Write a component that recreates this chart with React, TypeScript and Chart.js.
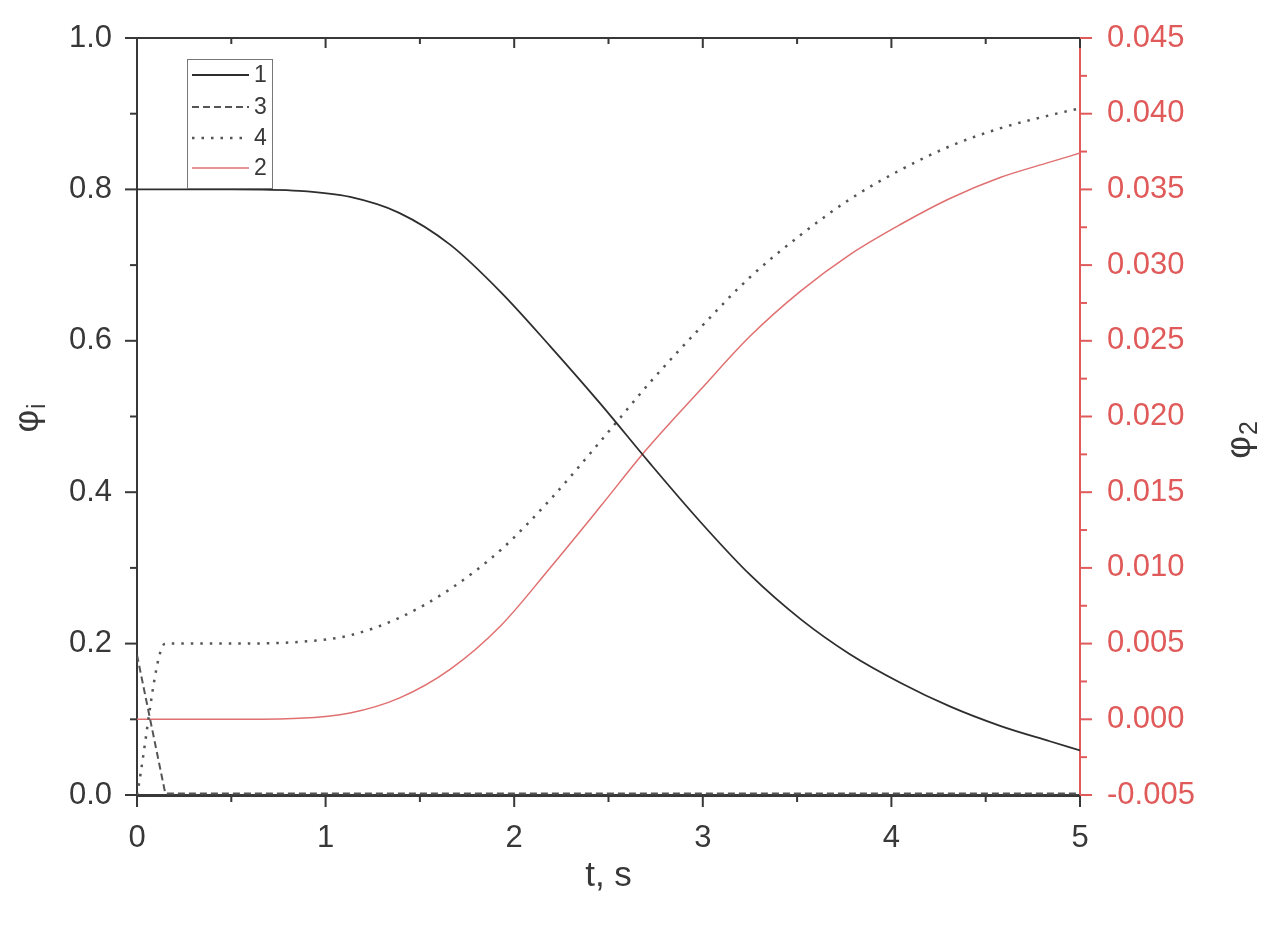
import React, { useEffect, useRef } from "react";
import { Chart, registerables } from "chart.js";
Chart.register(...registerables);

// Curve 1 (black solid, left axis)
const t1 = [0, 0.5, 0.86, 1.13, 1.39, 1.66, 1.93, 2.19, 2.46, 2.72, 2.99, 3.25, 3.52, 3.78, 4.05, 4.31, 4.58, 4.84, 5.0];
const phi1 = [0.8, 0.8, 0.798, 0.79, 0.769, 0.727, 0.664, 0.593, 0.516, 0.438, 0.36, 0.291, 0.232, 0.186, 0.148, 0.117, 0.091, 0.071, 0.059];
// Curve 3 (dashed, left axis)
const t3 = [0, 0.15, 5.0];
const phi3 = [0.185, 0.002, 0.002];
// Curve 4 (dotted, left axis)
const t4 = [0, 0.15, 0.5, 0.9, 1.13, 1.39, 1.66, 1.93, 2.19, 2.46, 2.72, 2.99, 3.25, 3.52, 3.78, 4.05, 4.31, 4.58, 4.84, 5.0];
const phi4 = [0, 0.2, 0.2, 0.203, 0.211, 0.234, 0.272, 0.324, 0.39, 0.468, 0.545, 0.618, 0.684, 0.74, 0.787, 0.826, 0.857, 0.881, 0.898, 0.907];
// Curve 2 (red, right axis)
const t2 = [0, 0.5, 0.86, 1.13, 1.39, 1.66, 1.93, 2.19, 2.46, 2.7, 2.99, 3.25, 3.52, 3.78, 4.05, 4.31, 4.58, 4.84, 5.0];
const phi2 = [0, 0, 0.00007, 0.00042, 0.0014, 0.0033, 0.0062, 0.01, 0.0141, 0.0178, 0.0218, 0.0253, 0.0283, 0.0307, 0.0327, 0.0344, 0.0358, 0.0368, 0.0374];

const legendOrder = ["1", "3", "4", "2"];
const xTitle = "t, s";
const yTitle = ["φ", "i"];
const y2Title = ["φ", "2"];

const FONT = "'Liberation Sans', Arial, sans-serif";
const DARK = "#383838";
const RED = "#e05a5a";

const pts = (t: number[], v: number[]) => t.map((x, i) => ({ x, y: v[i] }));

const decorPlugin = {
  id: "decor",
  afterDraw(chart: any) {
    const ctx = chart.ctx;
    const { left, right, top, bottom } = chart.chartArea;
    const xs = chart.scales.x;
    const ys = chart.scales.y;
    const y2s = chart.scales.y2;
    ctx.save();
    // top border
    ctx.strokeStyle = DARK;
    ctx.lineWidth = 2;
    ctx.beginPath();
    ctx.moveTo(left, top);
    ctx.lineTo(right, top);
    ctx.stroke();
    // x ticks (bottom outward, top inward)
    xs.ticks.forEach((tk: any) => {
      const v = tk.value;
      const major = Math.abs(v - Math.round(v)) < 1e-6;
      const px = xs.getPixelForValue(v);
      ctx.beginPath();
      ctx.moveTo(px, bottom);
      ctx.lineTo(px, bottom + (major ? 12 : 7));
      ctx.moveTo(px, top);
      ctx.lineTo(px, top + (major ? 10 : 6));
      ctx.stroke();
    });
    // left ticks
    ys.ticks.forEach((tk: any) => {
      const k = Math.round(tk.value * 10);
      const major = k % 2 === 0;
      const py = ys.getPixelForValue(tk.value);
      ctx.beginPath();
      ctx.moveTo(left, py);
      ctx.lineTo(left - (major ? 12 : 7), py);
      ctx.stroke();
    });
    // right ticks
    ctx.strokeStyle = RED;
    y2s.ticks.forEach((tk: any) => {
      const k = Math.round(tk.value / 0.0025);
      const major = k % 2 === 0;
      const py = y2s.getPixelForValue(tk.value);
      ctx.beginPath();
      ctx.moveTo(right, py);
      ctx.lineTo(right + (major ? 12 : 7), py);
      ctx.stroke();
    });

    // axis titles
    ctx.fillStyle = DARK;
    ctx.font = `35px ${FONT}`;
    ctx.textAlign = "center";
    ctx.textBaseline = "alphabetic";
    ctx.fillText(xTitle, (left + right) / 2, 886);

    const drawRot = (cx: number, cy: number, main: string, sub: string, color: string) => {
      ctx.save();
      ctx.translate(cx, cy);
      ctx.rotate(-Math.PI / 2);
      ctx.fillStyle = color;
      ctx.font = `35px ${FONT}`;
      const w1 = ctx.measureText(main).width;
      ctx.font = `25px ${FONT}`;
      const w2 = ctx.measureText(sub).width;
      const total = w1 + w2 + 1;
      ctx.textAlign = "left";
      ctx.textBaseline = "alphabetic";
      ctx.font = `35px ${FONT}`;
      ctx.fillText(main, -total / 2, 10);
      ctx.font = `25px ${FONT}`;
      ctx.fillText(sub, -total / 2 + w1 + 1, 17);
      ctx.restore();
    };
    drawRot(28, 418, yTitle[0], yTitle[1], DARK);
    drawRot(1240, 440, y2Title[0], y2Title[1], DARK);

    // legend
    const bx = 187, by = 59, bw = 85, bh = 129;
    ctx.fillStyle = "#ffffff";
    ctx.fillRect(bx, by, bw, bh);
    ctx.strokeStyle = "#777777";
    ctx.lineWidth = 1;
    ctx.strokeRect(bx + 0.5, by + 0.5, bw, bh);
    const rows = [75, 107, 138, 168];
    legendOrder.forEach((lab, i) => {
      const ds = chart.data.datasets.find((d: any) => d.label === lab);
      if (!ds) return;
      const y = rows[i];
      ctx.save();
      ctx.strokeStyle = ds.borderColor;
      ctx.lineWidth = ds.borderWidth;
      ctx.setLineDash(ds.borderDash || []);
      ctx.beginPath();
      ctx.moveTo(192, y);
      ctx.lineTo(249, y);
      ctx.stroke();
      ctx.restore();
      ctx.fillStyle = DARK;
      ctx.font = `23px ${FONT}`;
      ctx.textAlign = "left";
      ctx.textBaseline = "middle";
      ctx.fillText(lab, 254, y + 1);
    });
    ctx.restore();
  },
};

export default function App() {
  const ref = useRef<HTMLCanvasElement | null>(null);
  useEffect(() => {
    if (!ref.current) return;
    const chart = new Chart(ref.current, {
      type: "scatter",
      data: {
        datasets: [
          {
            label: "1",
            data: pts(t1, phi1),
            showLine: true,
            borderColor: "#2e2e2e",
            borderWidth: 1.8,
            pointRadius: 0,
            cubicInterpolationMode: "monotone",
            yAxisID: "y",
          },
          {
            label: "3",
            data: pts(t3, phi3),
            showLine: true,
            borderColor: "#555555",
            borderWidth: 2,
            borderDash: [7, 4],
            pointRadius: 0,
            tension: 0,
            yAxisID: "y",
          },
          {
            label: "4",
            data: pts(t4, phi4),
            showLine: true,
            borderColor: "#555555",
            borderWidth: 2.5,
            borderDash: [2.5, 7],
            pointRadius: 0,
            cubicInterpolationMode: "monotone",
            yAxisID: "y",
          },
          {
            label: "2",
            data: pts(t2, phi2),
            showLine: true,
            borderColor: "#e07070",
            borderWidth: 1.5,
            pointRadius: 0,
            cubicInterpolationMode: "monotone",
            yAxisID: "y2",
          },
        ] as any,
      },
      options: {
        animation: false,
        responsive: false,
        devicePixelRatio: 1,
        layout: { padding: { top: 38, left: 0, right: 0, bottom: 0 } },
        plugins: { legend: { display: false }, tooltip: { enabled: false } },
        scales: {
          x: {
            type: "linear",
            min: 0,
            max: 5,
            afterFit: (s: any) => { s.height = 131; },
            border: { display: true, color: DARK, width: 3 },
            grid: { display: true, drawOnChartArea: false, drawTicks: true, tickLength: 10, color: "transparent" },
            ticks: {
              stepSize: 0.5,
              autoSkip: false,
              maxRotation: 0,
              padding: 15,
              color: DARK,
              font: { family: FONT, size: 31 },
              callback: (v: any) => (Math.abs(v - Math.round(v)) < 1e-6 ? String(Math.round(v)) : ""),
            },
          },
          y: {
            type: "linear",
            position: "left",
            min: 0,
            max: 1,
            afterFit: (s: any) => { s.width = 137; },
            border: { display: true, color: DARK, width: 2 },
            grid: { display: true, drawOnChartArea: false, drawTicks: true, tickLength: 10, color: "transparent" },
            ticks: {
              stepSize: 0.1,
              autoSkip: false,
              padding: 15,
              color: DARK,
              font: { family: FONT, size: 31 },
              callback: (v: any) => {
                const k = Math.round(v * 10);
                return k % 2 === 0 ? (k / 10).toFixed(1) : "";
              },
            },
          },
          y2: {
            type: "linear",
            position: "right",
            min: -0.005,
            max: 0.045,
            afterFit: (s: any) => { s.width = 192; },
            border: { display: true, color: RED, width: 2 },
            grid: { display: true, drawOnChartArea: false, drawTicks: true, tickLength: 10, color: "transparent" },
            ticks: {
              stepSize: 0.0025,
              autoSkip: false,
              padding: 17,
              color: RED,
              font: { family: FONT, size: 31 },
              callback: (v: any) => {
                const k = Math.round(v / 0.0025);
                return k % 2 === 0 ? (k * 0.0025).toFixed(3) : "";
              },
            },
          },
        },
      } as any,
      plugins: [decorPlugin],
    });
    return () => chart.destroy();
  }, []);
  return (
    <div style={{ position: "fixed", left: 0, top: 0, width: 1272, height: 926, background: "#fff" }}>
      <canvas ref={ref} width={1272} height={926} style={{ width: 1272, height: 926, display: "block" }} />
    </div>
  );
}
